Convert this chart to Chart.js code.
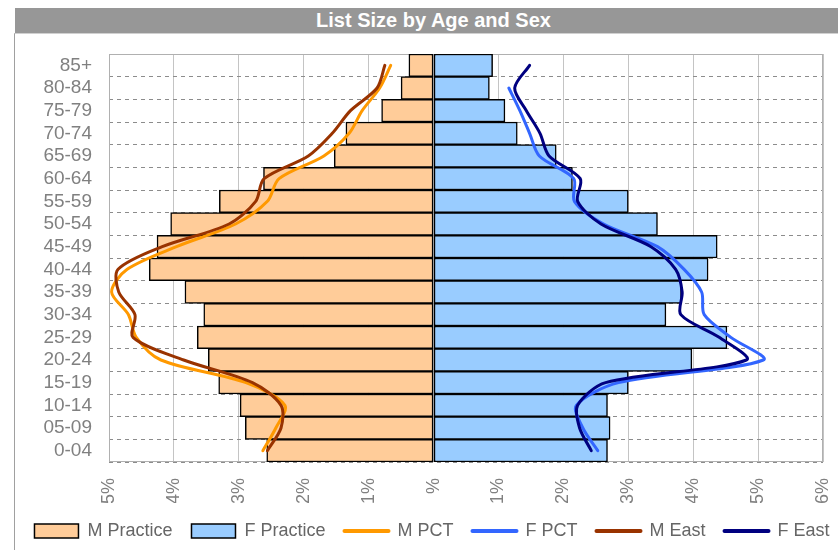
<!DOCTYPE html>
<html>
<head>
<meta charset="utf-8">
<script src="https://cdn.jsdelivr.net/npm/chart.js@4"></script>
<style>
html, body { margin: 0; padding: 0; background: #fff; overflow: hidden; width: 838px; height: 550px; }
#band { position: absolute; left: 15px; top: 8px; width: 837px; height: 25px; background: #979797; color: #fff;
        font: bold 20px "Liberation Sans", Arial, sans-serif; line-height: 25px; text-align: center; }
#frame { position: absolute; left: 14px; top: 33px; width: 840px; height: 530px;
         border-left: 1px solid #a0a0a0; border-top: 1px solid #d0d0d0; }
#wrap { position: absolute; left: 0; top: 0; width: 838px; height: 550px; }
</style>
</head>
<body>
<div id="band">List Size by Age and Sex</div>
<div id="frame"></div>
<div id="wrap"><canvas id="pyramid"></canvas></div>
<script>
// age bands, top of the pyramid first
const ageBands = ['85+', '80-84', '75-79', '70-74', '65-69', '60-64', '55-59', '50-54', '45-49',
                  '40-44', '35-39', '30-34', '25-29', '20-24', '15-19', '10-14', '05-09', '0-04'];

// % of list (males drawn to the left)
const mPractice = [0.38, 0.50, 0.80, 1.35, 1.53, 2.62, 3.30, 4.05, 4.26, 4.38, 3.83, 3.54, 3.64, 3.47, 3.31, 2.98, 2.90, 2.57];
const fPractice = [0.91, 0.86, 1.10, 1.29, 1.89, 2.14, 3.00, 3.45, 4.37, 4.23, 3.82, 3.58, 4.52, 3.98, 3.00, 2.68, 2.72, 2.68];
const mPct  = [0.66, 0.83, 1.10, 1.30, 1.69, 2.38, 2.56, 3.05, 3.96, 4.72, 4.96, 4.70, 4.58, 4.20, 2.89, 2.29, 2.43, 2.63];
const fPct  = [null, 1.16, 1.33, 1.48, 1.63, 2.16, 2.17, 2.62, 3.45, 3.86, 4.13, 4.17, 4.58, 5.08, 2.85, 2.20, 2.30, 2.53];
const mEast = [0.75, 0.87, 1.28, 1.56, 1.93, 2.61, 2.74, 3.15, 4.18, 4.86, 4.85, 4.60, 4.63, 3.85, 2.79, 2.35, 2.35, 2.56];
const fEast = [1.48, 1.25, 1.43, 1.64, 1.78, 2.26, 2.22, 2.58, 3.35, 3.73, 3.83, 3.81, 4.40, 4.82, 2.65, 2.22, 2.25, 2.43];

const xMin = -5, xMax = 6;

const neg = arr => arr.map(v => v === null ? null : -v);

Chart.defaults.font.family = '"Liberation Sans", Arial, sans-serif';
Chart.defaults.font.size = 18;

function barSet(label, data, colour) {
    return {
        type: 'bar', label: label, data: data,
        backgroundColor: colour, borderColor: '#000', borderWidth: 1.5, borderSkipped: false,
        grouped: false, barPercentage: 1, categoryPercentage: 1, order: 3
    };
}
function lineSet(label, data, colour, order) {
    return {
        type: 'line', label: label, data: data, indexAxis: 'y',
        borderColor: colour, backgroundColor: colour, borderWidth: 3, borderCapStyle: 'round',
        pointRadius: 0, tension: 0.3, fill: false, order: order
    };
}

// solid frame round the plot area
const plotFrame = {
    id: 'plotFrame',
    beforeDatasetsDraw(chart) {
        const a = chart.chartArea, c = chart.ctx;
        c.save();
        c.strokeStyle = '#b0b0b0';
        c.lineWidth = 1;
        c.setLineDash([]);
        c.strokeRect(Math.round(a.left) + 0.5, Math.round(a.top) + 0.5,
                     Math.round(a.right - a.left) - 1, Math.round(a.bottom - a.top) - 1);
        c.restore();
    }
};

// the legend row sits a little right of the canvas centre
const LEGEND_DX = 13;
const legendShift = {
    id: 'legendShift',
    afterLayout(chart) {
        chart.legend.left += LEGEND_DX;
        chart.legend.right += LEGEND_DX;
    }
};

new Chart(document.getElementById('pyramid'), {
    type: 'bar',
    data: {
        labels: ageBands,
        datasets: [
            barSet('M Practice', neg(mPractice), '#FFCC99'),
            barSet('F Practice', fPractice, '#99CCFF'),
            lineSet('M PCT', neg(mPct), '#FF9900', 2),
            lineSet('F PCT', fPct, '#3366FF', 2),
            lineSet('M East', neg(mEast), '#993300', 1),
            lineSet('F East', fEast, '#000080', 1)
        ]
    },
    options: {
        indexAxis: 'y',
        responsive: true,
        maintainAspectRatio: false,
        animation: false,
        layout: { padding: { top: 54, left: 0, right: 0, bottom: 0 } },
        scales: {
            x: {
                type: 'linear', min: xMin, max: xMax,
                grid: { color: '#c4c4c4', drawTicks: false },
                border: { display: false },
                ticks: {
                    stepSize: 1, autoSkip: false, minRotation: 90, maxRotation: 90,
                    padding: 16, color: '#808080',
                    callback: v => v === 0 ? '%' : Math.abs(v) + '%'
                },
                afterFit(s) { s.height = 41; s.paddingLeft = 0; s.paddingRight = 0; }
            },
            y: {
                type: 'category',
                grid: {
                    drawTicks: false, offset: true,
                    color: ctx => (ctx.index === 0 || ctx.index === ageBands.length) ? 'rgba(0,0,0,0)' : '#8c8c8c'
                },
                border: { display: false, dash: [4, 4] },
                ticks: { padding: 17, color: '#808080', autoSkip: false, font: { size: 19 } },
                afterFit(s) { s.width = 109; }
            },
            y2: {
                type: 'category', position: 'right',
                grid: { display: false }, border: { display: false },
                ticks: { display: false },
                afterFit(s) { s.width = 15; }
            }
        },
        plugins: {
            title: { display: false },
            tooltip: { enabled: false },
            legend: {
                position: 'bottom',
                labels: {
                    usePointStyle: true, pointStyleWidth: 44, boxHeight: 14, padding: 19,
                    color: '#666',
                    generateLabels(chart) {
                        const items = Chart.defaults.plugins.legend.labels.generateLabels(chart);
                        items.sort((a, b) => a.datasetIndex - b.datasetIndex);
                        items.forEach(it => {
                            if (it.datasetIndex < 2) {
                                it.pointStyle = 'rect';
                                it.strokeStyle = '#000';
                                it.lineWidth = 1.5;
                            } else {
                                it.pointStyle = 'line';
                                it.lineWidth = 4;
                                it.lineCap = 'round';
                            }
                        });
                        return items;
                    }
                }
            }
        }
    },
    plugins: [plotFrame, legendShift]
});
</script>
</body>
</html>
